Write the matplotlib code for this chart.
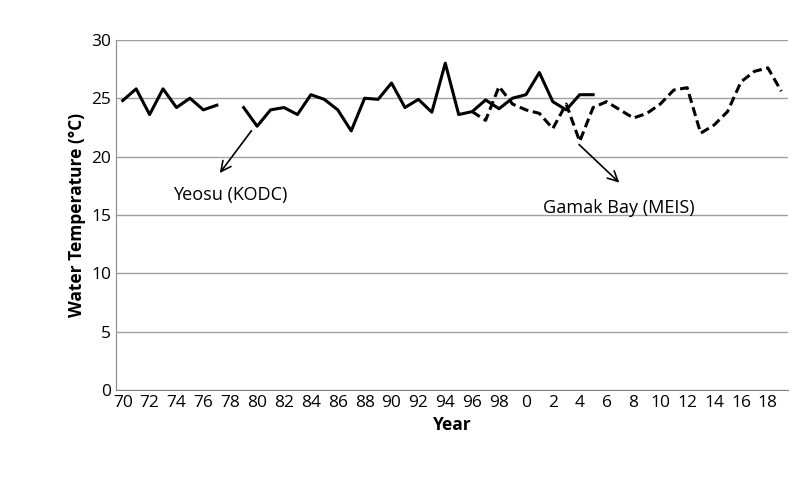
import numpy as np
import matplotlib as mpl
mpl.use('Agg')
import matplotlib.pyplot as plt

years = list(range(1970, 2020))
tick_labels = [str(y % 100) for y in years]

# Yeosu (KODC), 1970-2005, gap in 1978
yeosu = [24.8, 25.8, 23.6, 25.8, 24.2, 25.0, 24.0, 24.4, np.nan, 24.2,
         22.6, 24.0, 24.2, 23.6, 25.3, 24.9, 24.0, 22.2, 25.0, 24.9,
         26.3, 24.2, 24.9, 23.8, 28.0, 23.6, 23.85, 24.85, 24.1, 25.0,
         25.3, 27.2, 24.7, 24.0, 25.3, 25.3]
# Gamak Bay (MEIS), 1996-2019
gamak = [23.85, 23.1, 26.0, 24.5, 24.0, 23.7, 22.4, 24.5, 21.3, 24.2,
         24.7, 24.0, 23.3, 23.7, 24.5, 25.7, 25.9, 22.0, 22.7, 23.85,
         26.4, 27.3, 27.6, 25.6]

plt.rcParams['font.family'] = 'Open Sans'
fig = plt.figure(figsize=(8, 4.8), dpi=100)
ax = fig.add_axes([0.145, 0.1875, 0.84, 0.7295])

x = np.arange(len(years))
ax.plot(x[:len(yeosu)], yeosu, color='black', lw=2.2)
ax.plot(x[26:26 + len(gamak)], gamak, color='black', lw=2.2, ls=(0, (3, 1.5)))

ax.set_xlim(-0.5, len(years) - 0.5)
ax.set_ylim(0, 30)
ax.set_yticks(range(0, 31, 5))
ax.set_xticks(x[::2])
ax.set_xticklabels(tick_labels[::2])
ax.tick_params(labelsize=12.5, length=0)
ax.yaxis.grid(True, color='#a0a0a0', lw=1)
ax.set_axisbelow(True)
for s in ['top', 'right']:
    ax.spines[s].set_visible(False)
for s in ['left', 'bottom']:
    ax.spines[s].set_color('#888888')

ax.set_xlabel('Year', fontsize=12.5, fontweight='bold')
ax.set_ylabel('Water Temperature (\u00b0C)', fontsize=12.5, fontweight='bold')

arrow = dict(arrowstyle='->', color='black', lw=1.2, mutation_scale=18)
ax.annotate('', xy=(7.1, 18.4), xytext=(9.7, 22.4), arrowprops=arrow)
ax.text(8.0, 16.7, 'Yeosu (KODC)', ha='center', va='center', fontsize=13)
ax.annotate('', xy=(37.1, 17.6), xytext=(33.8, 21.2), arrowprops=arrow)
ax.text(36.9, 15.6, 'Gamak Bay (MEIS)', ha='center', va='center', fontsize=13)

plt.savefig('out.png', dpi=100)
